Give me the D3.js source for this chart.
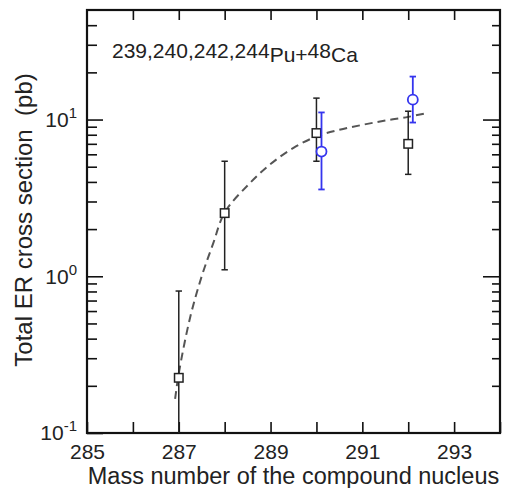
<!DOCTYPE html>
<html>
<head>
<meta charset="utf-8">
<script src="https://cdn.jsdelivr.net/npm/d3@7"></script>
<style>
  html, body { margin: 0; padding: 0; background: #fff; }
  svg { display: block; font-family: Arial, "Liberation Sans", Helvetica, sans-serif; }
</style>
</head>
<body>
<svg id="chart" width="507" height="488"></svg>
<script>
// ---- data ----
const squareMass = [287, 288, 290, 292];
const squareValue = [0.225, 2.53, 8.2, 7.0];
const squareLow = [0.05, 1.10, 5.42, 4.47];
const squareHigh = [0.805, 5.42, 13.7, 11.3];

const circleMass = [290.11, 292.1];
const circleValue = [6.25, 13.4];
const circleLow = [3.58, 9.57];
const circleHigh = [11.1, 18.8];

const curveMass = [286.92, 287, 287.25, 287.5, 287.75, 288, 288.5, 289, 289.5, 290, 290.5, 291, 291.5, 292, 292.37];
const curveValue = [0.165, 0.24, 0.55, 1.0, 1.62, 2.55, 3.8, 5.2, 6.6, 7.8, 8.6, 9.25, 9.85, 10.4, 10.95];

const xTicks = [285, 286, 287, 288, 289, 290, 291, 292, 293, 294];
const xTickLabels = [285, 287, 289, 291, 293];
const yMajorTicks = [0.1, 1, 10];
const yTickExponents = ["-1", "0", "1"];
const titleParts = ["239,240,242,244", "Pu+", "48", "Ca"];
const xTitle = "Mass number of the compound nucleus";
const yTitle = "Total ER cross section\u00a0\u00a0(pb)";

// ---- layout ----
const L = 87, R = 500, T = 10, B = 433;
const svg = d3.select("#chart");
const x = d3.scaleLinear().domain([285, 294]).range([L, R]);
const y = d3.scaleLog().domain([0.1, 50]).range([B, T]);

const yMinor = [];
yMajorTicks.forEach(d => { for (let k = 2; k <= 9; k++) { const v = d * k; if (v < 49) yMinor.push(v); } });

const textColor = "#222";
const fontFam = "Arial, 'Liberation Sans', sans-serif";

svg.append("defs").append("clipPath").attr("id", "clip")
  .append("rect").attr("x", L).attr("y", T).attr("width", R - L).attr("height", B - T);

function styleAxis(g) {
  g.select(".domain").remove();
  g.selectAll(".tick line").attr("stroke", "#111").attr("stroke-width", 1.6);
  g.selectAll(".tick text").attr("fill", textColor);
}

// bottom axis ticks (no labels)
svg.append("g").attr("transform", `translate(0,${B})`)
  .call(d3.axisBottom(x).tickValues(xTicks).tickSize(-11).tickFormat(""))
  .call(styleAxis)
  .selectAll(".tick text").remove();
// bottom axis labels
const gBL = svg.append("g").attr("transform", `translate(0,${B})`)
  .call(d3.axisBottom(x).tickValues(xTickLabels).tickSize(0).tickPadding(11).tickFormat(d3.format("d")))
  .call(styleAxis);
gBL.selectAll(".tick line").remove();
gBL.selectAll(".tick text").attr("font-size", 21).attr("font-family", fontFam);

// top axis
svg.append("g").attr("transform", `translate(0,${T})`)
  .call(d3.axisTop(x).tickValues(xTicks.filter(d => d > 285 && d < 294)).tickSize(-10).tickFormat(""))
  .call(styleAxis)
  .selectAll(".tick text").remove();

// left axis major
const gL = svg.append("g").attr("transform", `translate(${L},0)`)
  .call(d3.axisLeft(y).tickValues(yMajorTicks).tickSize(-16).tickPadding(10).tickFormat(""))
  .call(styleAxis);
gL.selectAll(".tick text").each(function(d, i) {
  const t = d3.select(this).attr("font-size", 21).attr("font-family", fontFam);
  t.text(null);
  t.append("tspan").text("10");
  t.append("tspan").attr("font-size", 15).attr("dy", "-0.6em").text(yTickExponents[i]);
});
// left minor
svg.append("g").attr("transform", `translate(${L},0)`)
  .call(d3.axisLeft(y).tickValues(yMinor).tickSize(-10).tickFormat(""))
  .call(styleAxis)
  .selectAll(".tick text").remove();
// right major & minor
svg.append("g").attr("transform", `translate(${R},0)`)
  .call(d3.axisRight(y).tickValues([1, 10]).tickSize(-17).tickFormat(""))
  .call(styleAxis)
  .selectAll(".tick text").remove();
svg.append("g").attr("transform", `translate(${R},0)`)
  .call(d3.axisRight(y).tickValues(yMinor).tickSize(-8).tickFormat(""))
  .call(styleAxis)
  .selectAll(".tick text").remove();

// frame
svg.append("rect").attr("x", L).attr("y", T).attr("width", R - L).attr("height", B - T)
  .attr("fill", "none").attr("stroke", "#111").attr("stroke-width", 2.2);

// ---- data layer ----
const plot = svg.append("g").attr("clip-path", "url(#clip)");

const curveData = curveMass.map((m, i) => [m, curveValue[i]]);
plot.append("path").datum(curveData)
  .attr("d", d3.line().x(d => x(d[0])).y(d => y(d[1])).curve(d3.curveCatmullRom.alpha(0.5)))
  .attr("fill", "none").attr("stroke", "#555").attr("stroke-width", 2)
  .attr("stroke-dasharray", "8,5");

function errorBars(g, masses, lows, highs, color, width) {
  const cap = 3.2;
  masses.forEach((m, i) => {
    const cx = x(m);
    g.append("line").attr("x1", cx).attr("x2", cx).attr("y1", y(lows[i])).attr("y2", y(highs[i]))
      .attr("stroke", color).attr("stroke-width", width);
    [lows[i], highs[i]].forEach(v => {
      if (v >= 0.1) {
        g.append("line").attr("x1", cx - cap).attr("x2", cx + cap).attr("y1", y(v)).attr("y2", y(v))
          .attr("stroke", color).attr("stroke-width", width);
      }
    });
  });
}

const sqColor = "#222";
errorBars(plot, squareMass, squareLow, squareHigh, sqColor, 1.5);
const s = 8.5;
squareMass.forEach((m, i) => {
  plot.append("rect").attr("x", x(m) - s / 2).attr("y", y(squareValue[i]) - s / 2)
    .attr("width", s).attr("height", s).attr("fill", "#fff")
    .attr("stroke", sqColor).attr("stroke-width", 1.5);
});

const blue = "#3535ee";
errorBars(plot, circleMass, circleLow, circleHigh, blue, 1.8);
circleMass.forEach((m, i) => {
  plot.append("circle").attr("cx", x(m)).attr("cy", y(circleValue[i])).attr("r", 5)
    .attr("fill", "#fff").attr("stroke", blue).attr("stroke-width", 1.8);
});

// ---- texts ----
const title = svg.append("text").attr("x", 112).attr("y", 62).attr("font-size", 21).attr("fill", textColor);
title.append("tspan").attr("dy", -4).text(titleParts[0]);
title.append("tspan").attr("dy", 4).text(titleParts[1]);
title.append("tspan").attr("dy", -4).text(titleParts[2]);
title.append("tspan").attr("dy", 4).text(titleParts[3]);

svg.append("text").attr("x", (L + R) / 2).attr("y", 484).attr("text-anchor", "middle")
  .attr("font-size", 23.5).attr("fill", textColor).text(xTitle);

svg.append("text").attr("transform", `translate(32,220) rotate(-90)`).attr("text-anchor", "middle")
  .attr("font-size", 24).attr("fill", textColor).text(yTitle);
</script>
</body>
</html>
